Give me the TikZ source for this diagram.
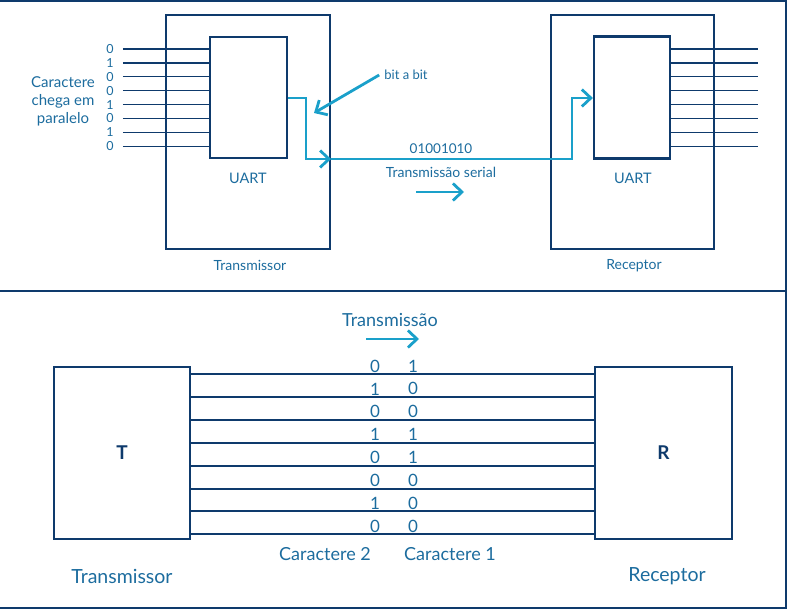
\documentclass[tikz,border=0pt]{standalone}
\usepackage{fontspec}
\setmainfont{Lato}
\usetikzlibrary{arrows.meta}
\definecolor{marinho}{RGB}{14,58,108}
\definecolor{texto}{RGB}{28,108,158}
\definecolor{ciano}{RGB}{26,160,202}
\begin{document}
\begin{tikzpicture}[x=1pt,y=-1pt]
\tikzset{caixa/.style={draw=marinho, line width=2.2pt, inner sep=0pt},
  fio/.style={draw=marinho, line width=1.3pt},
  fiogrosso/.style={draw=marinho, line width=2pt},
  serie/.style={draw=ciano, line width=2.8pt, -{Straight Barb[length=9pt,width=17pt]}},
  rotulo/.style={text=texto, inner sep=1pt},
  bitnoeud/.style={text=texto, font=\fontsize{12.5}{13}\selectfont, inner sep=1pt}}
\useasboundingbox (0,0) rectangle (788,610);
\draw[fiogrosso] (0,1) -- (786,1) -- (786,608) -- (0,608);
\draw[fiogrosso] (0,291) -- (786,291);
\node[caixa, minimum width=164, minimum height=234] (tx) at (248,132) {};
\node[caixa, minimum width=77, minimum height=121] (tu) at (248.5,97.5) {};
\node[caixa, minimum width=163, minimum height=234] (rx) at (632.5,132) {};
\node[caixa, minimum width=76, minimum height=122] (ru) at (632,97.5) {};
\node[rotulo, font=\fontsize{14.5}{16}\selectfont] (tuart) at (248,178) {UART};
\node[rotulo, font=\fontsize{14.5}{16}\selectfont] (ruart) at (633,178) {UART};
\node[rotulo, font=\fontsize{14}{16}\selectfont] (txlab) at (250,265) {Transmissor};
\node[rotulo, font=\fontsize{14}{16}\selectfont] (rxlab) at (634,266) {Receptor};
\node[rotulo, font=\fontsize{15}{18}\selectfont, align=center] (chega) at (63,101) {Caractere\\chega em\\paralelo};
\node[bitnoeud] (b1) at (110,49) {0};
\node[bitnoeud] (b2) at (110,62.9) {1};
\node[bitnoeud] (b3) at (110,76.8) {0};
\node[bitnoeud] (b4) at (110,90.7) {0};
\node[bitnoeud] (b5) at (110,104.6) {1};
\node[bitnoeud] (b6) at (110,118.5) {0};
\node[bitnoeud] (b7) at (110,132.4) {1};
\node[bitnoeud] (b8) at (110,146.3) {0};
\draw[fio] ([xshift=8]b1.east) -- (b1 -| tu.west);
\draw[fio] ([xshift=8]b2.east) -- (b2 -| tu.west);
\draw[fio] ([xshift=8]b3.east) -- (b3 -| tu.west);
\draw[fio] ([xshift=8]b4.east) -- (b4 -| tu.west);
\draw[fio] ([xshift=8]b5.east) -- (b5 -| tu.west);
\draw[fio] ([xshift=8]b6.east) -- (b6 -| tu.west);
\draw[fio] ([xshift=8]b7.east) -- (b7 -| tu.west);
\draw[fio] ([xshift=8]b8.east) -- (b8 -| tu.west);
\coordinate (o1) at (758,49);
\coordinate (o2) at (758,62.9);
\coordinate (o3) at (758,76.8);
\coordinate (o4) at (758,90.7);
\coordinate (o5) at (758,104.6);
\coordinate (o6) at (758,118.5);
\coordinate (o7) at (758,132.4);
\coordinate (o8) at (758,146.3);
\draw[fio] (o1 -| ru.east) -- (o1);
\draw[fio] (o2 -| ru.east) -- (o2);
\draw[fio] (o3 -| ru.east) -- (o3);
\draw[fio] (o4 -| ru.east) -- (o4);
\draw[fio] (o5 -| ru.east) -- (o5);
\draw[fio] (o6 -| ru.east) -- (o6);
\draw[fio] (o7 -| ru.east) -- (o7);
\draw[fio] (o8 -| ru.east) -- (o8);
\coordinate (s0) at (306,98);
\coordinate (s1) at (306,159);
\coordinate (s2) at (572,159);
\coordinate (s3) at (572,98);
\draw[serie] (s0 -| tu.east) -- (s0) -- (s1) -- (s1 -| tx.east);
\draw[serie] (s1 -| tx.east) -- (s2) -- (s3) -- (s3 -| ru.west);
\node[rotulo, font=\fontsize{13}{14}\selectfont] (bit) at (406,75) {bit a bit};
\coordinate (bitfim) at (314,113);
\draw[serie] ([xshift=-4]bit.west) -- (bitfim);
\node[rotulo, font=\fontsize{13.5}{14}\selectfont] (palavra) at (441,149) {01001010};
\node[rotulo, font=\fontsize{14}{16}\selectfont] (tserial) at (441,172) {Transmissão serial};
\coordinate (sa) at (416,192);
\coordinate (sb) at (464,192);
\draw[serie] (sa) -- (sb);
\node[caixa, minimum width=136, minimum height=172, text=marinho, font=\fontsize{19}{20}\selectfont\bfseries] (tb) at (122,453) {T};
\node[caixa, minimum width=137, minimum height=172, text=marinho, font=\fontsize{19}{20}\selectfont\bfseries] (rb) at (663.5,453) {R};
\node[rotulo, font=\fontsize{19.5}{22}\selectfont] (tblab) at (122,576) {Transmissor};
\node[rotulo, font=\fontsize{19.5}{22}\selectfont] (rblab) at (667,576) {Receptor};
\node[rotulo, font=\fontsize{18}{20}\selectfont] (tpar) at (390,320) {Transmissão};
\coordinate (pa) at (366,339);
\coordinate (pb) at (419,339);
\draw[serie] (pa) -- (pb);
\coordinate (w1) at (0,374);
\coordinate (w2) at (0,396.9);
\coordinate (w3) at (0,419.8);
\coordinate (w4) at (0,442.7);
\coordinate (w5) at (0,465.6);
\coordinate (w6) at (0,488.5);
\coordinate (w7) at (0,511.4);
\coordinate (w8) at (0,534.3);
\draw[fiogrosso] (w1 -| tb.east) -- (w1 -| rb.west);
\draw[fiogrosso] (w2 -| tb.east) -- (w2 -| rb.west);
\draw[fiogrosso] (w3 -| tb.east) -- (w3 -| rb.west);
\draw[fiogrosso] (w4 -| tb.east) -- (w4 -| rb.west);
\draw[fiogrosso] (w5 -| tb.east) -- (w5 -| rb.west);
\draw[fiogrosso] (w6 -| tb.east) -- (w6 -| rb.west);
\draw[fiogrosso] (w7 -| tb.east) -- (w7 -| rb.west);
\draw[fiogrosso] (w8 -| tb.east) -- (w8 -| rb.west);
\tikzset{digito/.style={text=texto, font=\fontsize{17}{18}\selectfont, inner sep=1pt}}
\node[digito] (da1) at (375,366) {0};
\node[digito] (da2) at (375,388.9) {1};
\node[digito] (da3) at (375,411.8) {0};
\node[digito] (da4) at (375,434.7) {1};
\node[digito] (da5) at (375,457.6) {0};
\node[digito] (da6) at (375,480.5) {0};
\node[digito] (da7) at (375,503.4) {1};
\node[digito] (da8) at (375,526.3) {0};
\node[digito] (db1) at (413,366) {1};
\node[digito] (db2) at (413,388.9) {0};
\node[digito] (db3) at (413,411.8) {0};
\node[digito] (db4) at (413,434.7) {1};
\node[digito] (db5) at (413,457.6) {1};
\node[digito] (db6) at (413,480.5) {0};
\node[digito] (db7) at (413,503.4) {0};
\node[digito] (db8) at (413,526.3) {0};
\node[rotulo, font=\fontsize{18}{20}\selectfont] (car2) at (325,554) {Caractere 2};
\node[rotulo, font=\fontsize{18}{20}\selectfont] (car1) at (450,554) {Caractere 1};
\end{tikzpicture}
\end{document}
